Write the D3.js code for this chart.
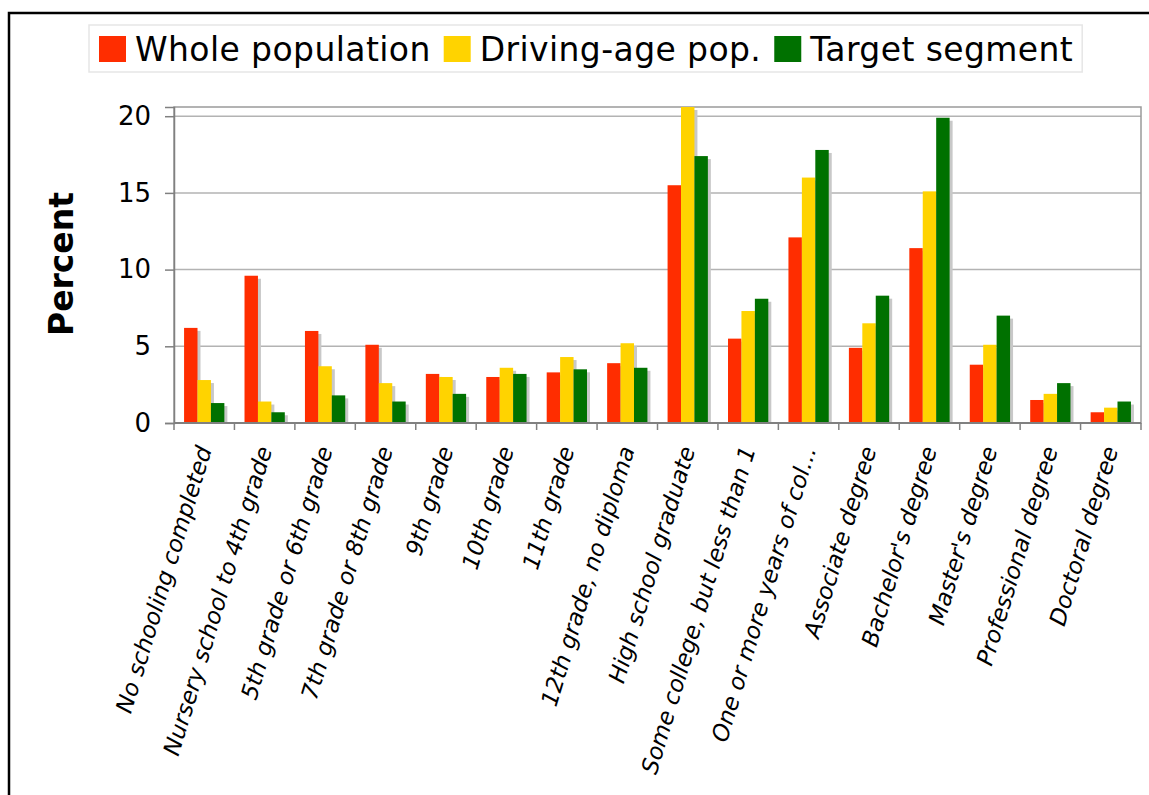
<!DOCTYPE html>
<html>
<head>
<meta charset="utf-8">
<script src="https://cdn.jsdelivr.net/npm/d3@7"></script>
<style>
	html, body { margin: 0; padding: 0; background: #fff; }
	svg { display: block; font-family: "DejaVu Sans", Verdana, sans-serif; }
</style>
</head>
<body>
<svg id="chart" width="1149" height="795"></svg>
<script>
"use strict";

// categories along the x axis
var categories = [
	"No schooling completed",
	"Nursery school to 4th grade",
	"5th grade or 6th grade",
	"7th grade or 8th grade",
	"9th grade",
	"10th grade",
	"11th grade",
	"12th grade, no diploma",
	"High school graduate",
	"Some college, but less than 1",
	"One or more years of col...",
	"Associate degree",
	"Bachelor's degree",
	"Master's degree",
	"Professional degree",
	"Doctoral degree"
];

var seriesNames  = ["Whole population", "Driving-age pop.", "Target segment"];
var seriesColors = ["#ff2d00", "#ffd300", "#007100"];

// percent values
var wholePop   = [6.2, 9.6, 6.0, 5.1, 3.2, 3.0, 3.3, 3.9, 15.5, 5.5, 12.1, 4.9, 11.4, 3.8, 1.5, 0.7];
var drivingPop = [2.8, 1.4, 3.7, 2.6, 3.0, 3.6, 4.3, 5.2, 20.6, 7.3, 16.0, 6.5, 15.1, 5.1, 1.9, 1.0];
var targetSeg  = [1.3, 0.7, 1.8, 1.4, 1.9, 3.2, 3.5, 3.6, 17.4, 8.1, 17.8, 8.3, 19.9, 7.0, 2.6, 1.4];

var yTicks = [0, 5, 10, 15, 20];
var yMax = 20.6;
var yTitle = "Percent";

function draw() {
	var svg = d3.select("#chart");
	var plot = {left: 174, right: 1141, top: 107, bottom: 423};

	// page frame
	svg.append("rect")
		.attr("x", 9).attr("y", 13)
		.attr("width", 1300).attr("height", 1000)
		.attr("fill", "none")
		.attr("stroke", "#000")
		.attr("stroke-width", 2.5);

	var xscale = d3.scaleBand()
		.domain(categories)
		.range([plot.left, plot.right]);
	var bw = xscale.bandwidth();
	var sub = d3.scaleBand()
		.domain(seriesNames)
		.range([bw / 6, bw * 5 / 6]);
	var yscale = d3.scaleLinear()
		.domain([0, yMax])
		.range([plot.bottom, plot.top]);

	// gridlines
	svg.append("g")
		.selectAll("line")
		.data(yTicks.filter(d=>d > 0))
		.join("line")
		.attr("x1", plot.left).attr("x2", plot.right)
		.attr("y1", d=>yscale(d)).attr("y2", d=>yscale(d))
		.attr("stroke", "#b3b3b3")
		.attr("stroke-width", 1.5);

	// plot frame
	svg.append("rect")
		.attr("x", plot.left).attr("y", plot.top)
		.attr("width", plot.right - plot.left)
		.attr("height", plot.bottom - plot.top)
		.attr("fill", "none")
		.attr("stroke", "#9a9a9a")
		.attr("stroke-width", 1.5);

	// flatten values into one list of bars
	var allSeries = [wholePop, drivingPop, targetSeg];
	var bars = [];
	categories.forEach((cat, i)=>{
		seriesNames.forEach((name, j)=>{
			bars.push({cat: cat, name: name, color: seriesColors[j], value: allSeries[j][i]});
		});
	});

	var barg = svg.append("g");
	// shadows first
	barg.selectAll(".shadow")
		.data(bars)
		.join("rect")
		.classed("shadow", true)
		.attr("x", d=>xscale(d.cat) + sub(d.name) + 3)
		.attr("y", d=>yscale(d.value) + 3)
		.attr("width", sub.bandwidth())
		.attr("height", d=>Math.max(0, plot.bottom - yscale(d.value) - 3))
		.attr("fill", "#c8c8c8");
	barg.selectAll(".bar")
		.data(bars)
		.join("rect")
		.classed("bar", true)
		.attr("x", d=>xscale(d.cat) + sub(d.name))
		.attr("y", d=>yscale(d.value))
		.attr("width", sub.bandwidth())
		.attr("height", d=>plot.bottom - yscale(d.value))
		.attr("fill", d=>d.color);

	// y axis
	var yaxis = d3.axisLeft(yscale)
		.tickValues(yTicks)
		.tickSize(9)
		.tickPadding(14)
		.tickFormat(d3.format("d"));
	var yg = svg.append("g")
		.attr("transform", `translate(${plot.left}, 0)`)
		.call(yaxis);
	yg.select(".domain").attr("stroke", "#808080").attr("stroke-width", 1.5);
	yg.selectAll(".tick line").attr("stroke", "#808080").attr("stroke-width", 1.5);
	yg.selectAll(".tick text")
		.attr("font-size", 26)
		.attr("font-family", "DejaVu Sans")
		.attr("fill", "#000");

	// x axis: ticks sit on category boundaries
	var xg = svg.append("g");
	var bounds = categories.map(c=>xscale(c)).concat([plot.right]);
	xg.selectAll("line")
		.data(bounds)
		.join("line")
		.attr("x1", d=>d).attr("x2", d=>d)
		.attr("y1", plot.bottom).attr("y2", plot.bottom + 7)
		.attr("stroke", "#808080")
		.attr("stroke-width", 1.5);
	xg.append("line")
		.attr("x1", plot.left).attr("x2", plot.right)
		.attr("y1", plot.bottom).attr("y2", plot.bottom)
		.attr("stroke", "#808080")
		.attr("stroke-width", 2);
	xg.selectAll("text")
		.data(categories)
		.join("text")
		.attr("transform", d=>`translate(${xscale(d) + bw / 2}, 447) rotate(-73)`)
		.attr("text-anchor", "end")
		.attr("dy", "0.35em")
		.attr("font-size", 23)
		.attr("font-style", "italic")
		.attr("fill", "#000")
		.text(d=>d);

	// y title
	svg.append("text")
		.attr("transform", "translate(73, 264) rotate(-90)")
		.attr("text-anchor", "middle")
		.attr("font-size", 33)
		.attr("font-weight", "bold")
		.text(yTitle);

	// legend
	var leg = svg.append("g");
	var legBox = leg.append("rect")
		.attr("fill", "#fff")
		.attr("stroke", "#e6e6e6")
		.attr("stroke-width", 1.5);
	var x = 99;
	seriesNames.forEach((name, j)=>{
		leg.append("rect")
			.attr("x", x).attr("y", 36)
			.attr("width", 27).attr("height", 26)
			.attr("fill", seriesColors[j]);
		var t = leg.append("text")
			.attr("x", x + 36).attr("y", 61)
			.attr("font-size", 33)
			.attr("letter-spacing", 0.4)
			.text(name);
		x += 36 + t.node().getComputedTextLength() + 13;
	});
	legBox.attr("x", 89).attr("y", 25)
		.attr("width", x - 13 + 9 - 89)
		.attr("height", 47);
}

draw();
</script>
</body>
</html>
